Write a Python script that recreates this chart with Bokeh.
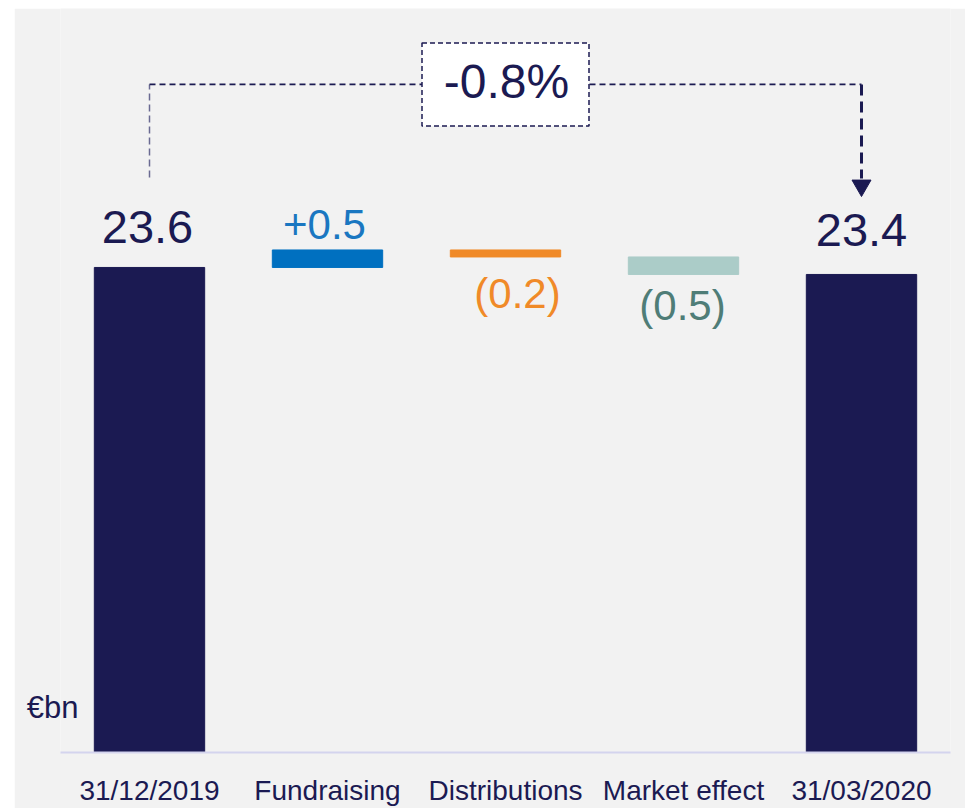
from bokeh.plotting import figure
from bokeh.models import Range1d, FactorRange, ColumnDataSource, LinearAxis, FixedTicker
from bokeh.core.properties import value
from bokeh.embed import file_html
from bokeh.resources import INLINE

# ---------------- data ----------------
categories = ["31/12/2019", "Fundraising", "Distributions", "Market effect", "31/03/2020"]
start_value = 23.6
changes = [0.5, -0.2, -0.5]
end_value = 23.4
value_labels = ["23.6", "+0.5", "(0.2)", "(0.5)", "23.4"]
change_label = "-0.8%"
unit_label = "€bn"

# ---------------- style ----------------
FONT = "Liberation Sans"
NAVY = "#1b1a52"
BG = "#f2f2f2"
bar_colors = [NAVY, "#0070c0", "#f08a28", "#abccc8", NAVY]
label_colors = [NAVY, "#1a77c1", "#f08a28", "#4f7d77", NAVY]
label_sizes = ["47px", "42px", "42px", "42px", "47px"]
label_dx = [-2, -3, 12, -1, 0]            # screen px
label_dy = [-40, -25, 37, 31, -44]        # screen px (positive = down)

Y_FLOOR = 9.74   # visual floor of the (truncated) value axis
Y_TOP = 31.0

# running totals for the waterfall
levels = [start_value]
for c in changes:
    levels.append(round(levels[-1] + c, 6))
bottoms = [Y_FLOOR] + [min(levels[i], levels[i + 1]) for i in range(len(changes))] + [Y_FLOOR]
tops = [start_value] + [max(levels[i], levels[i + 1]) for i in range(len(changes))] + [end_value]
anchors = [tops[0]] + [tops[i + 1] if changes[i] >= 0 else bottoms[i + 1] for i in range(len(changes))] + [tops[-1]]

src = ColumnDataSource(dict(
    cat=categories, bottom=bottoms, top=tops, color=bar_colors,
    anchor=anchors, label=value_labels, lcolor=label_colors,
    lsize=label_sizes, dx=label_dx, dy=label_dy,
))

p = figure(
    x_range=FactorRange(factors=categories),
    y_range=Range1d(Y_FLOOR, Y_TOP),
    frame_width=890, frame_height=744,
    output_backend="svg", toolbar_location=None,
    y_axis_location=None,
    min_border_left=46, min_border_right=15, min_border_top=0, min_border_bottom=56,
)
p.margin = (8, 4, 0, 14)
p.background_fill_color = BG
p.border_fill_color = BG
p.outline_line_color = None
p.xgrid.visible = False
p.ygrid.visible = False

p.vbar(x="cat", bottom="bottom", top="top", width=0.62, color="color", source=src)

p.text(x="cat", y="anchor", text="label", source=src, text_color="lcolor",
       text_font=value(FONT), text_font_size="lsize", text_align="center",
       text_baseline="alphabetic", x_offset="dx", y_offset="dy")

# ---- change bracket ----
first, last, mid = categories[0], categories[-1], categories[2]
bracket_y = 28.83
left_foot = 26.17
arrow_line_end = 26.14
arrow_head_y = 25.94

p.line(x=[first, first], y=[left_foot, bracket_y], line_color="#6a6a92",
       line_width=1.5, line_dash="7 4")
p.line(x=[first, last], y=[bracket_y, bracket_y], line_color=NAVY,
       line_width=1.8, line_dash="6 4")
p.line(x=[last, last], y=[bracket_y, arrow_line_end], line_color=NAVY,
       line_width=3, line_dash="11 6")
p.scatter(x=[last], y=[arrow_head_y], marker="inverted_triangle", size=19,
          color=NAVY)

p.rect(x=[mid], y=[bracket_y], width=167, height=83, width_units="screen",
       height_units="screen", fill_color="white", line_color=NAVY,
       line_width=1.5, line_dash="5 3")
p.text(x=[mid], y=[bracket_y], text=[change_label], text_color=NAVY,
       text_font=value(FONT), text_font_size="48px", text_align="center",
       text_baseline="middle", x_offset=1, y_offset=-3)

# ---- unit label on a bare left axis ----
unit_tick = Y_FLOOR + 1.3
uax = LinearAxis(ticker=FixedTicker(ticks=[unit_tick]),
                 major_label_overrides={unit_tick: unit_label})
uax.axis_line_color = None
uax.major_tick_line_color = None
uax.minor_tick_line_color = None
uax.major_label_text_font = FONT
uax.major_label_text_font_size = "31px"
uax.major_label_text_color = NAVY
uax.major_label_standoff = -24
p.add_layout(uax, "left")

# ---- axis ----
ax = p.xaxis[0]
ax.axis_line_color = "#d4d4ee"
ax.axis_line_width = 2
ax.major_tick_line_color = None
ax.minor_tick_line_color = None
ax.major_label_text_font = FONT
ax.major_label_text_font_size = "28px"
ax.major_label_text_color = NAVY
ax.major_label_standoff = 16

open("out.html", "w").write(file_html(p, INLINE))
